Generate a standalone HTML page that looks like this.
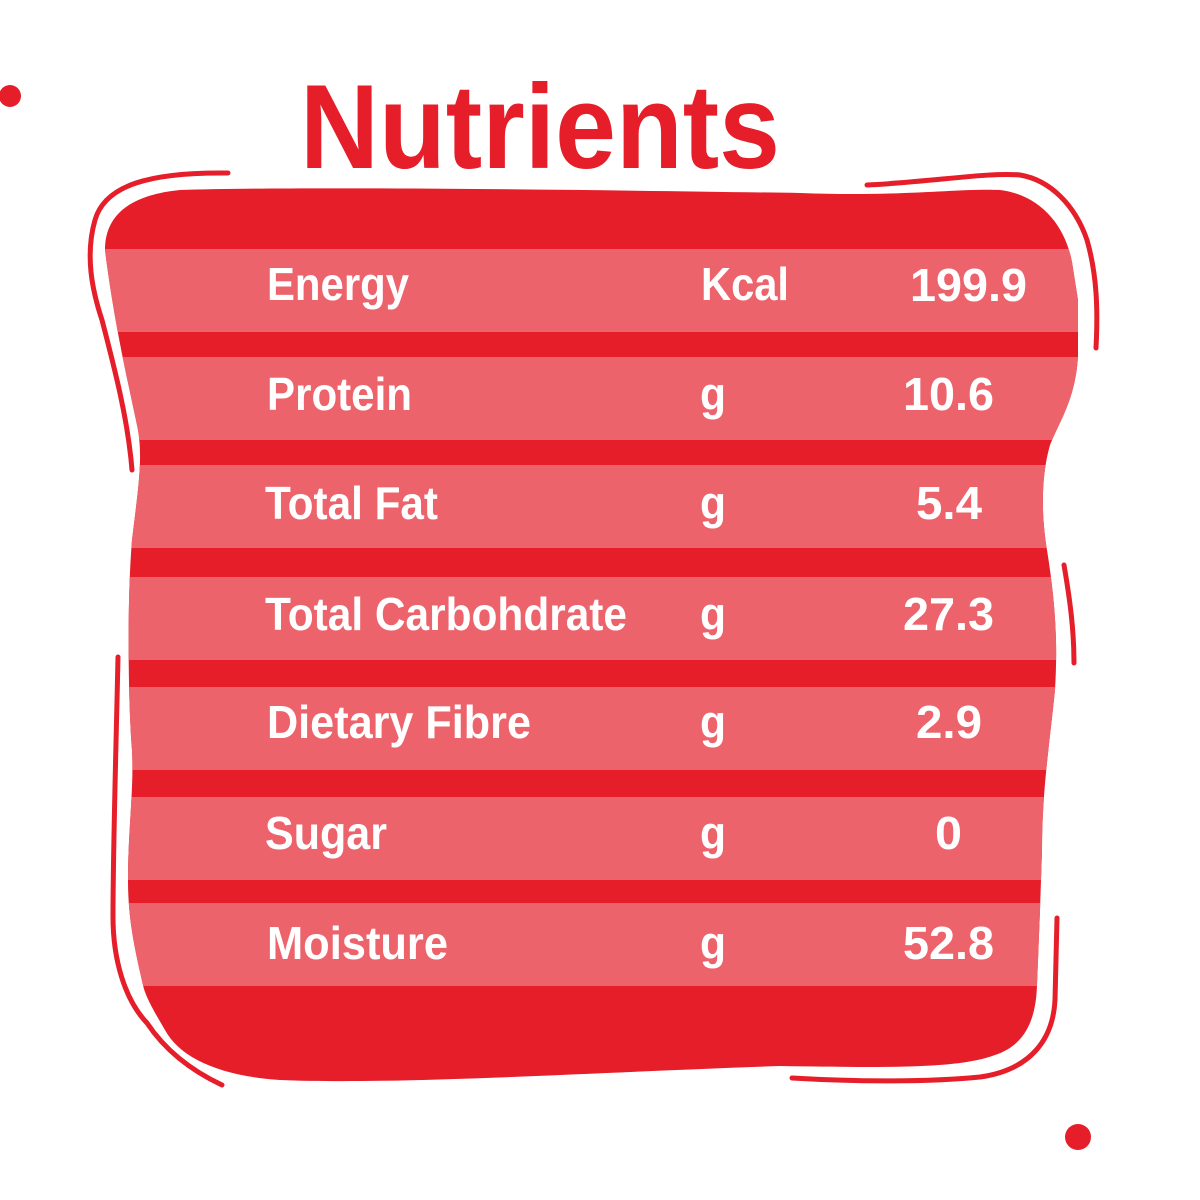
<!DOCTYPE html>
<html>
<head>
<meta charset="utf-8">
<style>
html,body{margin:0;padding:0;background:#fff;}
svg{display:block;}
text{font-family:"Liberation Sans",sans-serif;font-weight:bold;fill:#fff;}
</style>
</head>
<body>
<svg width="1200" height="1200" viewBox="0 0 1200 1200" xmlns="http://www.w3.org/2000/svg">
<defs>
<clipPath id="blob">
<path d="M105 250 C105 215 130 195 180 190 C300 186 600 190 800 193 C900 197 960 188 1000 190 C1040 195 1065 225 1072 262 L1078 300 L1078 357 C1075 400 1060 420 1050 445 C1040 480 1042 520 1047 550 C1055 600 1058 640 1055 690 C1050 740 1042 790 1042 850 L1040 910 L1037 985 C1036 1020 1025 1045 995 1055 C960 1068 900 1068 780 1066 C600 1072 400 1085 280 1080 C220 1076 180 1058 165 1030 C152 1008 145 995 143 985 C135 950 128 920 128 880 C128 830 134 790 132 750 C128 700 127 600 132 540 C138 490 143 460 138 430 C130 390 115 330 105 250 Z"/>
</clipPath>
</defs>

<!-- title -->
<text x="300" y="168" font-size="120" textLength="480" lengthAdjust="spacingAndGlyphs" style="fill:#E51E2A">Nutrients</text>

<!-- blob -->
<g clip-path="url(#blob)">
<rect x="0" y="150" width="1200" height="950" fill="#E51E2A"/>
<rect x="0" y="249" width="1200" height="83" fill="#ED636B"/>
<rect x="0" y="357" width="1200" height="83" fill="#ED636B"/>
<rect x="0" y="465" width="1200" height="83" fill="#ED636B"/>
<rect x="0" y="577" width="1200" height="83" fill="#ED636B"/>
<rect x="0" y="687" width="1200" height="83" fill="#ED636B"/>
<rect x="0" y="797" width="1200" height="83" fill="#ED636B"/>
<rect x="0" y="903" width="1200" height="83" fill="#ED636B"/>
</g>

<!-- outline strokes -->
<g fill="none" stroke="#E51E2A" stroke-width="5" stroke-linecap="round">
<path d="M228 173 C150 172 105 185 95 220 C85 255 92 290 102 320 C115 370 128 420 132 470"/>
<path d="M867 185 C930 182 990 172 1020 175 C1050 180 1075 205 1087 240 C1097 275 1098 310 1096 348"/>
<path d="M1064 565 C1070 600 1074 630 1074 663"/>
<path d="M1057 918 L1055 1000 C1053 1040 1030 1070 980 1077 C930 1082 860 1082 792 1078"/>
<path d="M118 657 C116 750 113 850 113 917 C113 960 125 1000 147 1023 C165 1050 190 1070 222 1085"/>
</g>

<!-- dots -->
<ellipse cx="10" cy="96" rx="11" ry="11" fill="#E51E2A"/>
<circle cx="1078" cy="1137" r="13" fill="#E51E2A"/>

<!-- labels -->
<g font-size="46">
<text x="267" y="300" textLength="142" lengthAdjust="spacingAndGlyphs">Energy</text>
<text x="267" y="410" textLength="145" lengthAdjust="spacingAndGlyphs">Protein</text>
<text x="265" y="519" textLength="173" lengthAdjust="spacingAndGlyphs">Total Fat</text>
<text x="265" y="630" textLength="362" lengthAdjust="spacingAndGlyphs">Total Carbohdrate</text>
<text x="267" y="738" textLength="264" lengthAdjust="spacingAndGlyphs">Dietary Fibre</text>
<text x="265" y="849" textLength="122" lengthAdjust="spacingAndGlyphs">Sugar</text>
<text x="267" y="959" textLength="181" lengthAdjust="spacingAndGlyphs">Moisture</text>

<text x="701" y="300" textLength="88" lengthAdjust="spacingAndGlyphs">Kcal</text>
<text x="700" y="410" textLength="26" lengthAdjust="spacingAndGlyphs">g</text>
<text x="700" y="519" textLength="26" lengthAdjust="spacingAndGlyphs">g</text>
<text x="700" y="630" textLength="26" lengthAdjust="spacingAndGlyphs">g</text>
<text x="700" y="738" textLength="26" lengthAdjust="spacingAndGlyphs">g</text>
<text x="700" y="849" textLength="26" lengthAdjust="spacingAndGlyphs">g</text>
<text x="700" y="959" textLength="26" lengthAdjust="spacingAndGlyphs">g</text>

<text x="910" y="301" textLength="117" lengthAdjust="spacingAndGlyphs">199.9</text>
<text x="903" y="410" textLength="91" lengthAdjust="spacingAndGlyphs">10.6</text>
<text x="916" y="519" textLength="66" lengthAdjust="spacingAndGlyphs">5.4</text>
<text x="903" y="630" textLength="91" lengthAdjust="spacingAndGlyphs">27.3</text>
<text x="916" y="738" textLength="66" lengthAdjust="spacingAndGlyphs">2.9</text>
<text x="935" y="849" textLength="27" lengthAdjust="spacingAndGlyphs">0</text>
<text x="903" y="959" textLength="91" lengthAdjust="spacingAndGlyphs">52.8</text>
</g>
</svg>
</body>
</html>
